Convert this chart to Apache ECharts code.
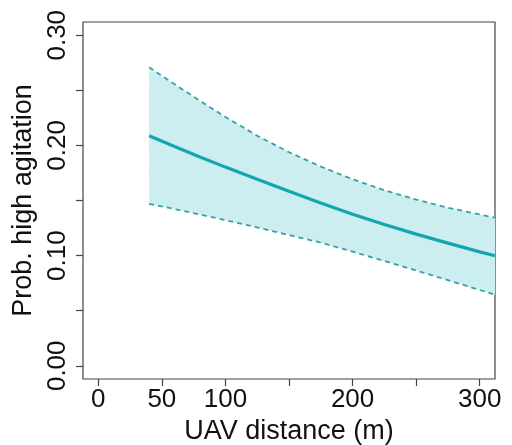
<!DOCTYPE html>
<html>
<head>
<meta charset="utf-8">
<style>html,body{margin:0;padding:0;background:#fff}#c{width:512px;height:445px}</style>
<script src="https://cdn.jsdelivr.net/npm/echarts@6/dist/echarts.min.js"></script>
</head>
<body>
<div id="c"></div>
<script>
var distance = [40, 60, 80, 100, 125, 150, 175, 200, 225, 250, 275, 300, 312];
var meanProb = [0.2088, 0.1990, 0.1895, 0.1803, 0.1692, 0.1584, 0.1478, 0.1376, 0.1283, 0.1195, 0.1113, 0.1034, 0.0998];
var lowerCI  = [0.1470, 0.1422, 0.1373, 0.1322, 0.1255, 0.1186, 0.1118, 0.1036, 0.0951, 0.0865, 0.0777, 0.0688, 0.0645];
var upperCI  = [0.2710, 0.2556, 0.2404, 0.2258, 0.2088, 0.1938, 0.1808, 0.1693, 0.1593, 0.1508, 0.1435, 0.1373, 0.1345];
var xTicks = [0, 50, 100, 150, 200, 250, 300];
var xLabels = [0, 50, 100, 200, 300];
var yTicks = [0, 0.05, 0.10, 0.15, 0.20, 0.25, 0.30];
var yLabels = [0, 0.10, 0.20, 0.30];

var FONT = 'Liberation Sans';
var lineCol = '#13a6ad';
var dashCol = '#36a2a6';
var fillCol = '#cdeef1';

function pairs(arr) { return distance.map(function (x, i) { return [x, arr[i]]; }); }

var chart = echarts.init(document.getElementById('c'), null, {renderer: 'canvas'});
chart.setOption({
  animation: false,
  grid: {left: 83, right: 17, top: 22, bottom: 66, containLabel: false, outerBoundsMode: 'none',
    show: true, borderColor: '#444', borderWidth: 1.2, backgroundColor: 'transparent'},
  xAxis: {
    type: 'value', min: -12, max: 312,
    name: 'UAV distance (m)', nameLocation: 'middle', nameGap: 34,
    nameTextStyle: {fontFamily: FONT, fontSize: 27, color: '#111'},
    axisLine: {show: false, onZero: false},
    axisTick: {show: true, inside: false, length: 7, customValues: xTicks, lineStyle: {color: '#444', width: 1.2}},
    axisLabel: {customValues: xLabels, fontFamily: FONT, fontSize: 26, color: '#111', margin: 8},
    splitLine: {show: false}
  },
  yAxis: {
    type: 'value', min: -0.012, max: 0.312,
    name: 'Prob. high agitation', nameLocation: 'middle', nameGap: 46,
    nameTextStyle: {fontFamily: FONT, fontSize: 27, color: '#111'},
    axisLine: {show: false, onZero: false},
    axisTick: {show: true, inside: false, length: 7, customValues: yTicks, lineStyle: {color: '#444', width: 1.2}},
    axisLabel: {customValues: yLabels, rotate: 90, fontFamily: FONT, fontSize: 26, color: '#111', margin: 12,
      formatter: function (v) { return v.toFixed(2); }},
    splitLine: {show: false}
  },
  series: [
    {
      type: 'custom',
      data: distance.map(function (x, i) { return [x, lowerCI[i], upperCI[i]]; }),
      encode: {x: 0, y: [1, 2]},
      clip: true,
      silent: true,
      renderItem: function (params, api) {
        if (params.dataIndex !== 0) return;
        var pts = [];
        for (var i = 0; i < distance.length; i++) pts.push(api.coord([distance[i], upperCI[i]]));
        for (var j = distance.length - 1; j >= 0; j--) pts.push(api.coord([distance[j], lowerCI[j]]));
        return {type: 'polygon', shape: {points: pts}, style: {fill: fillCol}};
      },
      z: 1
    },
    {type: 'line', data: pairs(upperCI), showSymbol: false, lineStyle: {color: dashCol, width: 1.8, type: [5, 4]}, z: 2},
    {type: 'line', data: pairs(lowerCI), showSymbol: false, lineStyle: {color: dashCol, width: 1.8, type: [5, 4]}, z: 2},
    {type: 'line', data: pairs(meanProb), showSymbol: false, lineStyle: {color: lineCol, width: 3.2}, z: 3}
  ]
});
</script>
</body>
</html>
